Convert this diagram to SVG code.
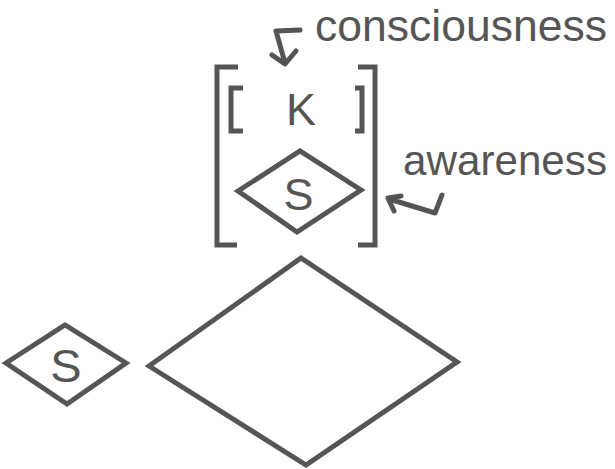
<svg xmlns="http://www.w3.org/2000/svg" width="615" height="469" viewBox="0 0 615 469">
<style>
.ln{fill:none;stroke:#555;stroke-width:5;stroke-linejoin:miter;stroke-linecap:butt}
.dm{fill:none;stroke:#555;stroke-width:5;stroke-linejoin:miter}
.ar{fill:none;stroke:#555;stroke-width:5;stroke-linejoin:round;stroke-linecap:round}
.t{font-family:"Liberation Sans",Arial,sans-serif;fill:#555}
</style>
<rect width="615" height="469" fill="#fff"/>
<g id="label-consciousness"><text class="t" x="315" y="41" font-size="44.5" textLength="292" lengthAdjust="spacingAndGlyphs">consciousness</text></g>
<g id="label-awareness"><text class="t" x="403" y="175" font-size="42" textLength="204" lengthAdjust="spacingAndGlyphs">awareness</text></g>
<g id="outer-bracket">
<path class="ln" d="M238,67 H217 V245 H237"/>
<path class="ln" d="M358,67 H375 V245 H358"/>
</g>
<g id="K-node">
<path class="ln" d="M243,88 H231 V131 H243"/>
<path class="ln" d="M355,88 H362 V131 H355"/>
<text class="t" x="301" y="125" font-size="45" text-anchor="middle">K</text>
</g>
<g id="S-inner">
<polygon class="dm" points="238,191 300,151 361,190 297,232"/>
<text class="t" x="298.5" y="210" font-size="45" text-anchor="middle">S</text>
</g>
<g id="S-outer">
<polygon class="dm" points="6,363 65,325 126,363 67,404"/>
<text class="t" x="66" y="382" font-size="47" text-anchor="middle">S</text>
</g>
<g id="big-diamond">
<polygon class="dm" points="149,366 301,258 457,362 306,465"/>
</g>
<g id="connectors">
<path class="ar" d="M300,30 L276,31 L285,63 M272,55 L285,64 L296,51"/>
<path class="ar" d="M442,195 L435,213 L389,199 M401,196 L388,198 L394,211"/>
</g>
</svg>
